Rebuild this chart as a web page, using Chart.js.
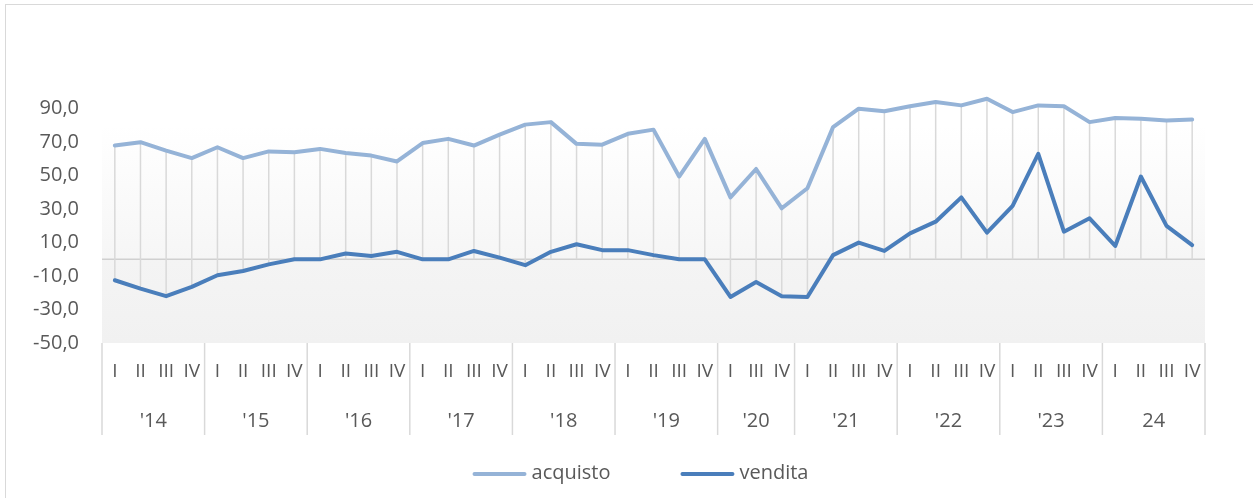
<!DOCTYPE html>
<html>
<head>
<meta charset="utf-8">
<script src="https://cdn.jsdelivr.net/npm/chart.js@4/dist/chart.umd.min.js"></script>
<style>
  html, body { margin: 0; padding: 0; background: #ffffff; }
  #wrap { position: relative; width: 1253px; height: 498px; overflow: hidden; }
  #frame { position: absolute; left: 5px; top: 4px; width: 1400px; height: 600px; border: 1.5px solid #d9d9d9; box-sizing: border-box; }
  #c { position: absolute; left: 0; top: 0; }
</style>
</head>
<body>
<div id="wrap">
  <div id="frame"></div>
  <canvas id="c" width="1253" height="498"></canvas>
</div>
<script>
// ---- data ----
const quarterLabels = [
  'I','II','III','IV', 'I','II','III','IV', 'I','II','III','IV',
  'I','II','III','IV', 'I','II','III','IV', 'I','II','III','IV',
  'I','III','IV',
  'I','II','III','IV', 'I','II','III','IV', 'I','II','III','IV', 'I','II','III','IV'
];
const yearLabels = ["'14","'15","'16","'17","'18","'19","'20","'21","'22","'23","24"];
const yearCounts = [4,4,4,4,4,4,3,4,4,4,4];
const acquisto = [
  68, 70, 65, 60.5, 67, 60.5, 64.5, 64, 66, 63.5, 62, 58.5,
  69.5, 72, 68, 74.5, 80.5, 82, 69, 68.5, 75, 77.5, 49.5, 72,
  37, 54, 30.5,
  42.5, 79, 90, 88.5, 91.5, 94, 92, 96, 88, 92, 91.5, 82, 84.5, 84, 83, 83.5
];
const vendita = [
  -12.5, -17.5, -22, -16.5, -9.5, -7, -3, 0, 0, 3.5, 2, 4.5,
  0, 0, 5, 1, -3.5, 4.5, 9, 5.5, 5.5, 2.5, 0, 0,
  -22.5, -13.5, -22,
  -22.5, 2.5, 10, 5, 15.5, 22.5, 37, 16, 32, 63, 16.5, 24.5, 8, 49.5, 20, 8.5
];
const yTicks = [-50, -30, -10, 10, 30, 50, 70, 90];
const seriesNames = ['acquisto', 'vendita'];

// ---- styles ----
const FONT = '"Open Sans", "DejaVu Sans", sans-serif';
const TEXT = '#595959';
const C_ACQ = '#95b3d7';
const C_VEN = '#4a7ebb';
const GRID = '#d9d9d9';

const decorPlugin = {
  id: 'decor',
  beforeDatasetsDraw(chart) {
    const ctx = chart.ctx, a = chart.chartArea;
    const xs = chart.scales.x, ys = chart.scales.y;
    const y0 = ys.getPixelForValue(0);
    const yTopGrad = ys.getPixelForValue(80);
    ctx.save();
    let g = ctx.createLinearGradient(0, yTopGrad, 0, y0);
    g.addColorStop(0, '#ffffff');
    g.addColorStop(1, '#f6f6f6');
    ctx.fillStyle = g;
    ctx.fillRect(a.left, yTopGrad, a.right - a.left, y0 - yTopGrad);
    g = ctx.createLinearGradient(0, y0, 0, a.bottom);
    g.addColorStop(0, '#f4f4f4');
    g.addColorStop(1, '#f1f1f1');
    ctx.fillStyle = g;
    ctx.fillRect(a.left, y0, a.right - a.left, a.bottom - y0);
    ctx.strokeStyle = '#d0d0d0';
    ctx.lineWidth = 1.5;
    ctx.beginPath();
    ctx.moveTo(a.left, y0);
    ctx.lineTo(a.right, y0);
    ctx.stroke();
    ctx.strokeStyle = GRID;
    ctx.lineWidth = 1.5;
    for (let i = 0; i < acquisto.length; i++) {
      const x = xs.getPixelForValue(i);
      ctx.beginPath();
      ctx.moveTo(x, ys.getPixelForValue(Math.max(acquisto[i], 0)));
      ctx.lineTo(x, ys.getPixelForValue(Math.min(vendita[i], 0)));
      ctx.stroke();
    }
    ctx.restore();
  },
  afterDraw(chart) {
    const ctx = chart.ctx, a = chart.chartArea;
    const xs = chart.scales.x;
    const step = xs.getPixelForValue(1) - xs.getPixelForValue(0);
    ctx.save();
    ctx.strokeStyle = GRID;
    ctx.lineWidth = 1.5;
    ctx.fillStyle = TEXT;
    ctx.font = '20px ' + FONT;
    ctx.textAlign = 'center';
    ctx.textBaseline = 'middle';
    let idx = 0;
    const sepBottom = a.bottom + 92;
    for (let k = 0; k < yearLabels.length; k++) {
      const xl = xs.getPixelForValue(idx) - step / 2;
      const xr = xs.getPixelForValue(idx + yearCounts[k] - 1) + step / 2;
      ctx.beginPath();
      ctx.moveTo(xl, a.bottom);
      ctx.lineTo(xl, sepBottom);
      ctx.stroke();
      if (k === yearLabels.length - 1) {
        ctx.beginPath();
        ctx.moveTo(xr, a.bottom);
        ctx.lineTo(xr, sepBottom);
        ctx.stroke();
      }
      ctx.fillText(yearLabels[k], (xl + xr) / 2, a.bottom + 78);
      idx += yearCounts[k];
    }
    const colors = [C_ACQ, C_VEN];
    const lineLen = 54, gapText = 5, gapItem = 70;
    const widths = seriesNames.map(n => ctx.measureText(n).width);
    const total = widths.reduce((s, w) => s + lineLen + gapText + w, 0) + gapItem;
    let x = 640.5 - total / 2;
    const ly = 474;
    ctx.textAlign = 'left';
    ctx.lineCap = 'round';
    seriesNames.forEach((n, i) => {
      ctx.strokeStyle = colors[i];
      ctx.lineWidth = 4;
      ctx.beginPath();
      ctx.moveTo(x + 2, ly);
      ctx.lineTo(x + lineLen - 2, ly);
      ctx.stroke();
      ctx.fillStyle = TEXT;
      ctx.fillText(n, x + lineLen + gapText, ly - 1);
      x += lineLen + gapText + widths[i] + gapItem;
    });
    ctx.restore();
  }
};

new Chart(document.getElementById('c'), {
  type: 'line',
  data: {
    labels: quarterLabels,
    datasets: [
      { label: seriesNames[0], data: acquisto, borderColor: C_ACQ, backgroundColor: C_ACQ,
        borderWidth: 4, pointRadius: 0, tension: 0, borderJoinStyle: 'round', borderCapStyle: 'round' },
      { label: seriesNames[1], data: vendita, borderColor: C_VEN, backgroundColor: C_VEN,
        borderWidth: 4, pointRadius: 0, tension: 0, borderJoinStyle: 'round', borderCapStyle: 'round' }
    ]
  },
  options: {
    responsive: false,
    animation: false,
    devicePixelRatio: 1,
    layout: { padding: { left: 0, right: 48, top: 92, bottom: 0 } },
    plugins: { legend: { display: false }, tooltip: { enabled: false } },
    scales: {
      x: {
        type: 'category',
        offset: true,
        grid: { display: false, drawTicks: false },
        border: { display: false },
        ticks: { color: TEXT, font: { family: FONT, size: 19 }, padding: 17, maxRotation: 0, autoSkip: false },
        afterFit(scale) { scale.height = 155; }
      },
      y: {
        min: -50,
        max: 100,
        grid: { display: false, drawTicks: false },
        border: { display: false },
        afterBuildTicks(scale) { scale.ticks = yTicks.map(v => ({ value: v })); },
        ticks: {
          color: TEXT, font: { family: FONT, size: 20 }, padding: 23,
          callback: v => v.toFixed(1).replace('.', ',')
        },
        afterFit(scale) { scale.width = 102; }
      }
    }
  },
  plugins: [decorPlugin]
});
</script>
</body>
</html>
